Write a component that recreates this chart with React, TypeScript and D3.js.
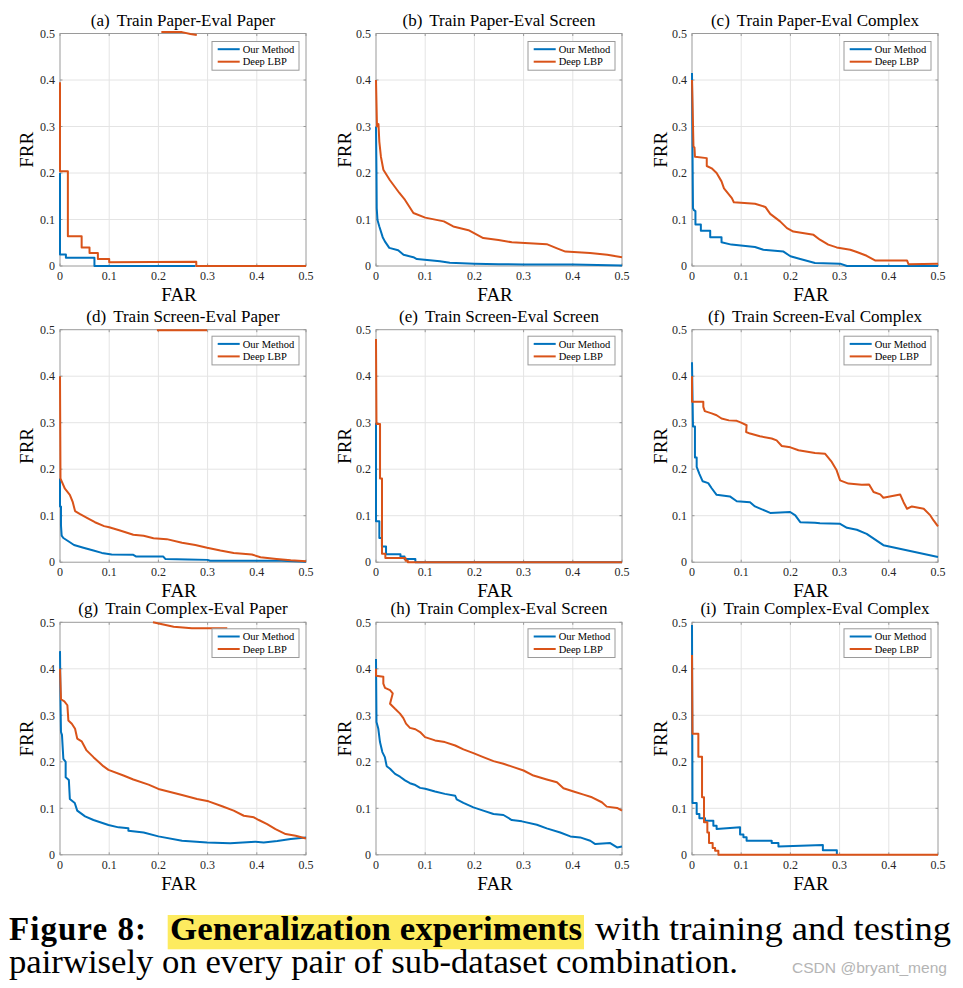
import React from "react";
import * as d3 from "d3";

type Pt = [number, number];

// ---------- data (FAR, FRR) ----------
const ourA: Pt[] = [[0,0.2],[0,0.025],[0.012,0.025],[0.012,0.018],[0.07,0.018],[0.07,0],[0.275,0]];
const lbpA: Pt[] = [[0,0.395],[0,0.204],[0.016,0.204],[0.016,0.064],[0.044,0.064],[0.044,0.04],[0.06,0.04],[0.06,0.028],[0.077,0.028],[0.077,0.015],[0.1,0.015],[0.1,0.008],[0.277,0.009],[0.277,0],[0.5,0]];
const lbpTopA: Pt[] = [[0.206,0.503],[0.248,0.503],[0.265,0.499],[0.278,0.497]];

const ourB: Pt[] = [[0,0.3],[0.001,0.2],[0.0015,0.124],[0.003,0.099],[0.0068,0.085],[0.0136,0.062],[0.018,0.053],[0.027,0.039],[0.045,0.034],[0.056,0.024],[0.076,0.019],[0.083,0.015],[0.13,0.01],[0.15,0.007],[0.2,0.005],[0.25,0.004],[0.3,0.003],[0.4,0.003],[0.5,0.001]];
const lbpB: Pt[] = [[0,0.4],[0.002,0.3],[0.005,0.305],[0.0068,0.267],[0.01,0.235],[0.015,0.207],[0.028,0.185],[0.0475,0.157],[0.059,0.142],[0.076,0.114],[0.1,0.104],[0.138,0.096],[0.157,0.085],[0.188,0.077],[0.218,0.06],[0.249,0.056],[0.276,0.051],[0.347,0.047],[0.368,0.038],[0.385,0.031],[0.435,0.028],[0.47,0.024],[0.5,0.019]];

const ourC: Pt[] = [[0,0.415],[0.001,0.253],[0.002,0.124],[0.004,0.12],[0.007,0.118],[0.007,0.089],[0.018,0.089],[0.018,0.076],[0.037,0.076],[0.037,0.062],[0.06,0.062],[0.06,0.051],[0.08,0.046],[0.128,0.041],[0.145,0.035],[0.186,0.031],[0.2,0.021],[0.22,0.015],[0.25,0.0064],[0.301,0.005],[0.315,0],[0.5,0]];
const lbpC: Pt[] = [[0,0.4],[0.003,0.257],[0.005,0.255],[0.006,0.235],[0.03,0.232],[0.03,0.215],[0.04,0.21],[0.05,0.2],[0.06,0.182],[0.065,0.167],[0.081,0.146],[0.085,0.137],[0.128,0.134],[0.149,0.127],[0.159,0.112],[0.179,0.096],[0.193,0.0815],[0.206,0.074],[0.247,0.067],[0.26,0.0565],[0.277,0.046],[0.294,0.04],[0.3216,0.035],[0.335,0.03],[0.355,0.022],[0.372,0.012],[0.437,0.012],[0.44,0.004],[0.5,0.005]];

const ourD: Pt[] = [[0,0.18],[0,0.12],[0.002,0.12],[0.002,0.079],[0.0034,0.057],[0.0068,0.052],[0.017,0.045],[0.0285,0.037],[0.0476,0.031],[0.068,0.025],[0.085,0.02],[0.105,0.0165],[0.149,0.0158],[0.155,0.012],[0.21,0.012],[0.214,0.007],[0.26,0.006],[0.3,0.005],[0.305,0.003],[0.45,0.003],[0.5,0.001]];
const lbpD: Pt[] = [[0,0.4],[0.001,0.18],[0.003,0.175],[0.01,0.158],[0.02,0.145],[0.026,0.129],[0.0306,0.11],[0.04,0.104],[0.0557,0.095],[0.071,0.086],[0.0897,0.0776],[0.1,0.075],[0.122,0.068],[0.149,0.059],[0.17,0.057],[0.19,0.0517],[0.217,0.0496],[0.248,0.0417],[0.275,0.037],[0.299,0.031],[0.326,0.025],[0.353,0.02],[0.39,0.0165],[0.4076,0.0108],[0.44,0.007],[0.469,0.004],[0.5,0.002]];
const lbpTopD: Pt[] = [[0.197,0.499],[0.299,0.499]];

const ourE: Pt[] = [[0,0.3],[0,0.088],[0.0068,0.088],[0.0068,0.052],[0.012,0.052],[0.012,0.034],[0.0204,0.034],[0.0204,0.017],[0.0497,0.017],[0.0497,0.012],[0.058,0.012],[0.058,0.007],[0.08,0.007],[0.08,0],[0.5,0]];
const lbpE: Pt[] = [[0,0.48],[0.001,0.297],[0.0082,0.297],[0.0082,0.18],[0.0122,0.18],[0.0122,0.018],[0.019,0.018],[0.019,0.0093],[0.06,0.0093],[0.06,0.003],[0.0646,0.003],[0.0646,0],[0.5,0]];

const ourF: Pt[] = [[0,0.43],[0.002,0.292],[0.006,0.292],[0.006,0.225],[0.0095,0.225],[0.0095,0.205],[0.015,0.19],[0.0217,0.174],[0.033,0.17],[0.04,0.159],[0.05,0.145],[0.077,0.1415],[0.091,0.131],[0.118,0.129],[0.128,0.12],[0.159,0.106],[0.1995,0.108],[0.21,0.1006],[0.22,0.086],[0.25,0.085],[0.26,0.084],[0.301,0.0826],[0.315,0.074],[0.335,0.0697],[0.355,0.061],[0.389,0.0366],[0.5,0.011]];
const lbpF: Pt[] = [[0,0.4],[0,0.345],[0.023,0.345],[0.023,0.334],[0.026,0.325],[0.04,0.32],[0.05,0.316],[0.06,0.309],[0.075,0.305],[0.091,0.304],[0.101,0.2996],[0.111,0.2945],[0.11,0.28],[0.118,0.2766],[0.138,0.2708],[0.162,0.266],[0.172,0.262],[0.1825,0.25],[0.2,0.247],[0.2164,0.2407],[0.25,0.235],[0.2707,0.233],[0.284,0.2155],[0.294,0.1976],[0.301,0.176],[0.318,0.169],[0.345,0.1667],[0.36,0.167],[0.369,0.151],[0.3826,0.1458],[0.389,0.1386],[0.423,0.1458],[0.43,0.129],[0.437,0.115],[0.447,0.12],[0.471,0.115],[0.4844,0.1006],[0.491,0.0898],[0.5,0.077]];

const ourG: Pt[] = [[0,0.438],[0.001,0.33],[0.002,0.264],[0.004,0.258],[0.0068,0.2065],[0.0115,0.2],[0.0115,0.167],[0.018,0.161],[0.02,0.12],[0.03,0.1115],[0.035,0.095],[0.051,0.0827],[0.068,0.0748],[0.0985,0.064],[0.119,0.059],[0.139,0.057],[0.139,0.0518],[0.17,0.048],[0.2,0.0396],[0.248,0.03],[0.299,0.0266],[0.346,0.025],[0.397,0.028],[0.414,0.0266],[0.4416,0.0295],[0.469,0.0338],[0.5,0.037]];
const lbpG: Pt[] = [[0,0.4],[0.002,0.3345],[0.0088,0.33],[0.015,0.3216],[0.017,0.289],[0.024,0.282],[0.0306,0.271],[0.035,0.25],[0.044,0.244],[0.054,0.2245],[0.068,0.21],[0.088,0.1906],[0.0985,0.1827],[0.129,0.1705],[0.149,0.162],[0.18,0.151],[0.2,0.1417],[0.248,0.1288],[0.2785,0.12],[0.302,0.115],[0.3295,0.1043],[0.353,0.095],[0.3736,0.084],[0.394,0.0806],[0.404,0.0748],[0.421,0.066],[0.438,0.0554],[0.4586,0.0446],[0.479,0.041],[0.5,0.035]];
const lbpTopG: Pt[] = [[0.189,0.5],[0.231,0.4906],[0.268,0.487],[0.34,0.487]];

const ourH: Pt[] = [[0,0.421],[0.001,0.2856],[0.0047,0.271],[0.0081,0.2424],[0.0129,0.2209],[0.018,0.21],[0.0217,0.1906],[0.0285,0.185],[0.0387,0.174],[0.0488,0.168],[0.059,0.16],[0.069,0.154],[0.08,0.15],[0.0896,0.1439],[0.1,0.142],[0.12,0.136],[0.14,0.131],[0.161,0.127],[0.164,0.119],[0.1777,0.1115],[0.198,0.102],[0.218,0.095],[0.2388,0.0878],[0.259,0.0856],[0.276,0.0748],[0.2965,0.0719],[0.327,0.0647],[0.347,0.0568],[0.3745,0.048],[0.395,0.0396],[0.415,0.0374],[0.4355,0.0302],[0.4457,0.023],[0.476,0.0252],[0.49,0.0158],[0.5,0.018]];
const lbpH: Pt[] = [[0,0.4],[0,0.385],[0.0149,0.383],[0.0149,0.368],[0.0183,0.359],[0.0285,0.354],[0.034,0.347],[0.0285,0.325],[0.0387,0.314],[0.0488,0.3036],[0.0556,0.294],[0.061,0.282],[0.069,0.273],[0.08,0.27],[0.0896,0.264],[0.0997,0.253],[0.12,0.246],[0.14,0.2424],[0.161,0.235],[0.1777,0.2266],[0.198,0.2187],[0.218,0.21],[0.2388,0.2014],[0.259,0.1957],[0.2795,0.1885],[0.2999,0.1813],[0.32,0.1705],[0.347,0.162],[0.3677,0.156],[0.381,0.143],[0.4016,0.136],[0.422,0.1295],[0.439,0.1237],[0.459,0.113],[0.469,0.1036],[0.49,0.1007],[0.5,0.095]];

const ourI: Pt[] = [[0,0.494],[0.001,0.1115],[0.0095,0.1115],[0.0095,0.0878],[0.015,0.0878],[0.015,0.0784],[0.0265,0.0784],[0.0265,0.0734],[0.0434,0.0734],[0.0434,0.0626],[0.05,0.0626],[0.05,0.0554],[0.0977,0.059],[0.0977,0.0439],[0.1045,0.0439],[0.1045,0.038],[0.111,0.038],[0.111,0.0302],[0.162,0.0302],[0.162,0.0252],[0.1757,0.0252],[0.1757,0.018],[0.266,0.0209],[0.266,0.01],[0.2944,0.01],[0.2944,0]];
const lbpI: Pt[] = [[0,0.4295],[0.001,0.2604],[0.0129,0.2604],[0.0129,0.2108],[0.0204,0.2108],[0.0204,0.1237],[0.0244,0.1237],[0.0244,0.0698],[0.0312,0.0698],[0.0312,0.0482],[0.0346,0.0482],[0.0346,0.0252],[0.042,0.0252],[0.042,0.0144],[0.047,0.0144],[0.047,0.0086],[0.0536,0.0086],[0.0536,0],[0.5,0]];

const panelLetters = ["(a)", "(b)", "(c)", "(d)", "(e)", "(f)", "(g)", "(h)", "(i)"];
const panelNames = [
  "Train Paper-Eval Paper", "Train Paper-Eval Screen", "Train Paper-Eval Complex",
  "Train Screen-Eval Paper", "Train Screen-Eval Screen", "Train Screen-Eval Complex",
  "Train Complex-Eval Paper", "Train Complex-Eval Screen", "Train Complex-Eval Complex",
];
const ourSeries = [ourA, ourB, ourC, ourD, ourE, ourF, ourG, ourH, ourI];
const lbpSeries = [lbpA, lbpB, lbpC, lbpD, lbpE, lbpF, lbpG, lbpH, lbpI];
const lbpExtra: (Pt[] | null)[] = [lbpTopA, null, null, lbpTopD, null, null, lbpTopG, null, null];
const seriesNames = ["Our Method", "Deep LBP"];
const tickValues = [0, 0.1, 0.2, 0.3, 0.4, 0.5];
const tickLabels = ["0", "0.1", "0.2", "0.3", "0.4", "0.5"];

// ---------- layout / style ----------
const COL_LEFT = [60, 376, 692];
const ROW_TOP = [33.5, 329.7, 622.3];
const PW = 246;
const PH = 232.5;
const BLUE = "#0072BD";
const ORANGE = "#D95319";
const SERIF = "Liberation Serif, Times New Roman, Times, serif";
const AXIS = "#9a9a9a";
const GRID = "#e4e4e4";
const TXT = "#262626";

function Panel({ i }: { i: number }) {
  const col = i % 3;
  const row = Math.floor(i / 3);
  const left = COL_LEFT[col];
  const top = ROW_TOP[row];
  const x = d3.scaleLinear().domain([0, 0.5]).range([left, left + PW]);
  const y = d3.scaleLinear().domain([0, 0.5]).range([top + PH, top]);
  const line = d3.line<Pt>().x((d) => x(d[0])).y((d) => y(d[1]));
  const cx = left + PW / 2;
  const cy = top + PH / 2;
  const lgW = 87, lgH = 28.7;
  const lgX = left + PW - 7 - lgW;
  const lgY = top + (row === 0 ? 8 : 6.5);
  const extra = lbpExtra[i];
  const frrOff = col === 0 ? 27 : 25;
  return (
    <g>
      {tickValues.slice(1, -1).map((t) => (
        <g key={"g" + t}>
          <line x1={x(t)} x2={x(t)} y1={top} y2={top + PH} stroke={GRID} strokeWidth={1} />
          <line x1={left} x2={left + PW} y1={y(t)} y2={y(t)} stroke={GRID} strokeWidth={1} />
        </g>
      ))}
      {tickValues.map((t) => (
        <g key={"t" + t}>
          <line x1={x(t)} x2={x(t)} y1={top + PH} y2={top + PH - 2.5} stroke={AXIS} />
          <line x1={x(t)} x2={x(t)} y1={top} y2={top + 2.5} stroke={AXIS} />
          <line x1={left} x2={left + 2.5} y1={y(t)} y2={y(t)} stroke={AXIS} />
          <line x1={left + PW} x2={left + PW - 2.5} y1={y(t)} y2={y(t)} stroke={AXIS} />
        </g>
      ))}
      <rect x={left} y={top} width={PW} height={PH} fill="none" stroke={AXIS} strokeWidth={1} />
      {tickValues.map((t, k) => (
        <text key={"xl" + t} x={x(t)} y={top + PH + 14} textAnchor="middle" fontFamily={SERIF} fontSize={12} fill={TXT}>
          {tickLabels[k]}
        </text>
      ))}
      {tickValues.map((t, k) => (
        <text key={"yl" + t} x={left - 5} y={y(t)} dy="0.35em" textAnchor="end" fontFamily={SERIF} fontSize={12} fill={TXT}>
          {tickLabels[k]}
        </text>
      ))}
      <path d={line(ourSeries[i]) || ""} fill="none" stroke={BLUE} strokeWidth={2} strokeLinejoin="round" />
      <path d={line(lbpSeries[i]) || ""} fill="none" stroke={ORANGE} strokeWidth={2} strokeLinejoin="round" />
      {extra && <path d={line(extra) || ""} fill="none" stroke={ORANGE} strokeWidth={2} strokeLinejoin="round" />}
      <rect x={lgX} y={lgY} width={lgW} height={lgH} fill="#fff" stroke={AXIS} strokeWidth={1} />
      {[BLUE, ORANGE].map((c, k) => (
        <g key={"lg" + k}>
          <line x1={lgX + 5.7} x2={lgX + 27.7} y1={lgY + 7.7 + k * 12.5} y2={lgY + 7.7 + k * 12.5} stroke={c} strokeWidth={2} />
          <text x={lgX + 30.7} y={lgY + 7.7 + k * 12.5} dy="0.35em" fontFamily={SERIF} fontSize={10.5} fill="#000">
            {seriesNames[k]}
          </text>
        </g>
      ))}
      <text x={cx} y={top - 8} textAnchor="middle" fontFamily={SERIF} fontSize={17} fill="#000">
        <tspan>{panelLetters[i]}</tspan>
        <tspan dx={7}>{panelNames[i]}</tspan>
      </text>
      <text x={cx - 4} y={top + PH + 35} textAnchor="middle" fontFamily={SERIF} fontSize={19} fill="#000">FAR</text>
      <text transform={`translate(${left - frrOff},${cy}) rotate(-90)`} textAnchor="middle" fontFamily={SERIF} fontSize={19} fill="#000">FRR</text>
    </g>
  );
}

export default function App() {
  return (
    <svg width={963} height={988} style={{ position: "absolute", left: 0, top: 0, background: "#fff" }}>
      <rect x={0} y={0} width={963} height={988} fill="#fff" />
      {panelNames.map((_, i) => (
        <Panel key={i} i={i} />
      ))}
      <rect x={167.7} y={915} width={416.3} height={34.3} fill="#fdeb5f" />
      <g fontFamily={SERIF} fontSize={33} fill="#000">
        <text x={9} y={940} fontWeight="bold" textLength={137} lengthAdjust="spacing">Figure 8:</text>
        <text x={170} y={940} fontWeight="bold" textLength={412} lengthAdjust="spacingAndGlyphs">Generalization experiments</text>
        <text x={595} y={940} textLength={356} lengthAdjust="spacingAndGlyphs">with  training  and  testing</text>
        <text x={9} y={973} textLength={729} lengthAdjust="spacingAndGlyphs">pairwisely on every pair of sub-dataset combination.</text>
      </g>
      <text x={792} y={973} fontFamily="Liberation Sans, Arial, sans-serif" fontSize={15} fill="#b4b4b4" textLength={155} lengthAdjust="spacingAndGlyphs">
        CSDN @bryant_meng
      </text>
    </svg>
  );
}
